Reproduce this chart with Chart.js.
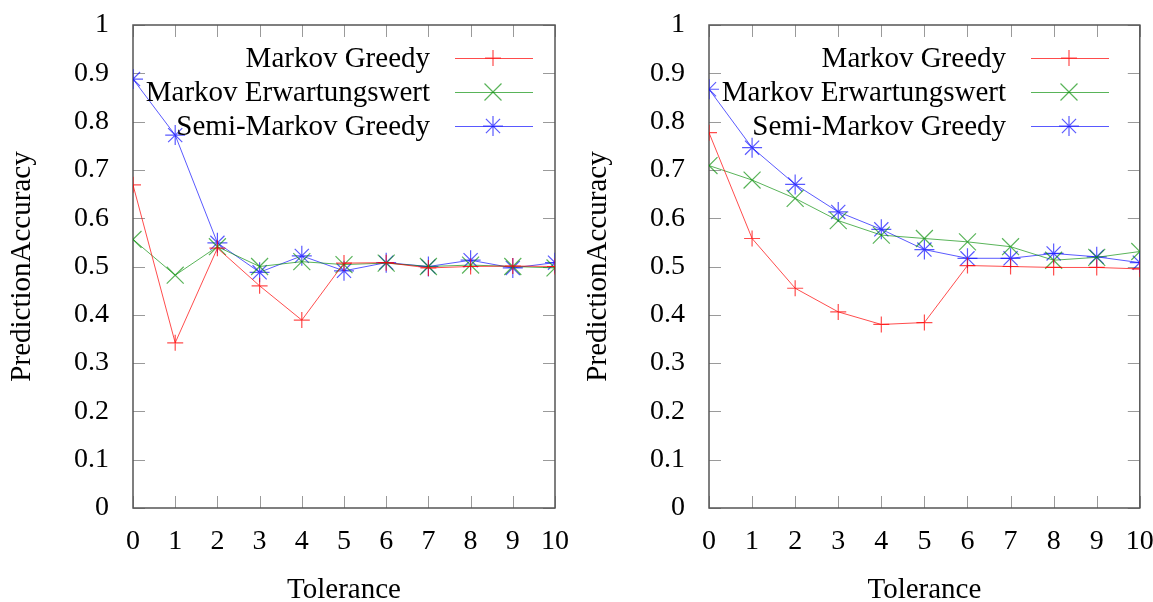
<!DOCTYPE html>
<html>
<head>
<meta charset="utf-8">
<script src="https://cdn.jsdelivr.net/npm/chart.js@4/dist/chart.umd.min.js"></script>
<style>
  html, body { margin:0; padding:0; background:#fff; }
  .wrap { position:absolute; top:0; height:602px; }
  #w1 { left:0; width:576px; }
  #w2 { left:576px; width:577px; }
</style>
</head>
<body>
<div class="wrap" id="w1"><canvas id="c1"></canvas></div>
<div class="wrap" id="w2"><canvas id="c2"></canvas></div>
<script>
// Werte
const tolerance = [0, 1, 2, 3, 4, 5, 6, 7, 8, 9, 10];
const seriesLabels = ['Markov Greedy', 'Markov Erwartungswert', 'Semi-Markov Greedy'];

// linkes Diagramm
const leftGreedy     = [0.669, 0.342, 0.538, 0.460, 0.389, 0.507, 0.508, 0.497, 0.500, 0.501, 0.500];
const leftErwartung  = [0.556, 0.482, 0.541, 0.500, 0.510, 0.504, 0.507, 0.500, 0.503, 0.500, 0.497];
const leftSemi       = [0.888, 0.772, 0.549, 0.488, 0.522, 0.491, 0.508, 0.500, 0.513, 0.497, 0.508];

// rechtes Diagramm
const rightGreedy    = [0.777, 0.558, 0.455, 0.406, 0.380, 0.384, 0.502, 0.500, 0.498, 0.498, 0.495];
const rightErwartung = [0.709, 0.679, 0.641, 0.595, 0.565, 0.558, 0.551, 0.541, 0.513, 0.519, 0.531];
const rightSemi      = [0.867, 0.746, 0.670, 0.613, 0.577, 0.535, 0.517, 0.517, 0.527, 0.520, 0.508];

const FONT = '"Liberation Serif", "Times New Roman", serif';
const colors = ['rgba(255,0,0,0.7)', 'rgba(0,140,0,0.65)', 'rgba(0,0,255,0.65)'];
const styles = ['cross', 'crossRot', 'star'];
const radii  = [8, 12, 10];

function makeSets(vals){
  return vals.map((v, i) => ({
    label: seriesLabels[i],
    data: tolerance.map((x, k) => ({ x, y: v[k] })),
    borderColor: colors[i],
    backgroundColor: colors[i],
    borderWidth: 1,
    pointStyle: styles[i],
    pointRadius: radii[i],
    pointBorderWidth: 1.2,
    pointHoverRadius: radii[i],
    tension: 0
  }));
}

// Rahmen + nach innen zeigende Teilstriche (gnuplot-Stil)
const framePlugin = {
  id: 'frame',
  beforeDatasetsDraw(chart){
    const { ctx, chartArea: a, scales } = chart;
    const len = 12;
    ctx.save();
    ctx.strokeStyle = '#9a9a9a';
    ctx.lineWidth = 1;
    ctx.beginPath();
    scales.x.ticks.forEach(t => {
      const px = Math.round(scales.x.getPixelForValue(t.value)) + 0.5;
      ctx.moveTo(px, a.bottom); ctx.lineTo(px, a.bottom - len);
      ctx.moveTo(px, a.top); ctx.lineTo(px, a.top + len);
    });
    scales.y.ticks.forEach(t => {
      const py = Math.round(scales.y.getPixelForValue(t.value)) + 0.5;
      ctx.moveTo(a.left, py); ctx.lineTo(a.left + len, py);
      ctx.moveTo(a.right, py); ctx.lineTo(a.right - len, py);
    });
    ctx.stroke();
    ctx.strokeStyle = '#555';
    ctx.lineWidth = 1.5;
    ctx.strokeRect(a.left, a.top, a.right - a.left, a.bottom - a.top);
    ctx.restore();
  }
};

// Legende rechts oben, Text rechtsbündig, Linienmuster rechts
const keyPlugin = {
  id: 'key',
  afterDraw(chart){
    const { ctx } = chart;
    const rows = [58, 92, 126];
    ctx.save();
    ctx.font = '29px ' + FONT;
    ctx.textAlign = 'right';
    ctx.textBaseline = 'middle';
    chart.data.datasets.forEach((ds, i) => {
      const y = rows[i];
      ctx.fillStyle = '#000';
      ctx.fillText(ds.label, 430, y + 1);
      ctx.strokeStyle = ds.borderColor;
      ctx.lineWidth = 1;
      ctx.beginPath();
      ctx.moveTo(455, y + 0.5); ctx.lineTo(533, y + 0.5);
      ctx.stroke();
      ctx.fillStyle = ds.borderColor;
      ctx.lineWidth = 1.2;
      Chart.helpers.drawPoint(ctx, { pointStyle: ds.pointStyle, radius: ds.pointRadius, rotation: 0, borderWidth: 1.2 }, 493, y);
    });
    ctx.restore();
  }
};

function build(id, vals, padRight){
  new Chart(document.getElementById(id), {
    type: 'line',
    data: { datasets: makeSets(vals) },
    options: {
      responsive: true,
      maintainAspectRatio: false,
      animation: false,
      layout: { padding: { top: 25, right: padRight, left: 0, bottom: 0 } },
      plugins: { legend: { display: false }, tooltip: { enabled: false } },
      scales: {
        x: {
          type: 'linear', min: 0, max: 10,
          ticks: { stepSize: 1, padding: 17, color: '#000', font: { family: FONT, size: 28 } },
          grid: { display: false, drawTicks: false },
          border: { display: false },
          title: { display: true, text: 'Tolerance', color: '#000', font: { family: FONT, size: 29 }, padding: { top: 0, bottom: -6 } },
          afterFit(s){ s.height = 94; s.paddingLeft = 0; s.paddingRight = 0; }
        },
        y: {
          min: 0, max: 1,
          ticks: {
            stepSize: 0.1, padding: 24, color: '#000', font: { family: FONT, size: 28 },
            callback: v => String(Number(v.toFixed(1)))
          },
          grid: { display: false, drawTicks: false },
          border: { display: false },
          title: { display: true, text: 'PredictionAccuracy', color: '#000', font: { family: FONT, size: 29 }, padding: { top: 5, bottom: 0 } },
          afterFit(s){ s.width = 133; s.paddingTop = 0; s.paddingBottom = 0; }
        }
      }
    },
    plugins: [framePlugin, keyPlugin]
  });
}

build('c1', [leftGreedy, leftErwartung, leftSemi], 21);
build('c2', [rightGreedy, rightErwartung, rightSemi], 13);
</script>
</body>
</html>
